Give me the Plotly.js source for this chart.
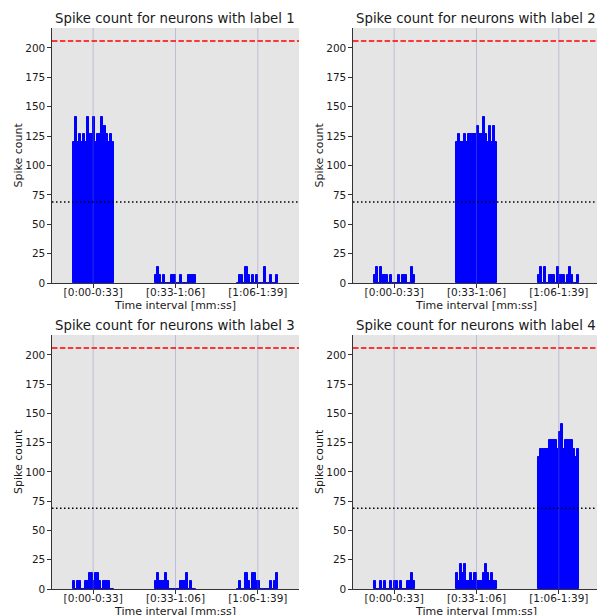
<!DOCTYPE html>
<html>
<head>
<meta charset="utf-8">
<script src="https://cdn.plot.ly/plotly-3.0.1.min.js"></script>
<style>
  html, body { margin: 0; padding: 0; overflow: hidden; background: #fff; }
  #chart { width: 610px; height: 625px; }
</style>
</head>
<body>
<div id="chart"></div>
<script>
// ---- data ----
const intervalLabels = ['[0:00-0:33]', '[0:33-1:06]', '[1:06-1:39]'];
const neuronLabels = [1, 2, 3, 4];

// spike count per neuron, for each time interval (20 neurons per interval)
const label1Counts = [
  [120,141,120,127,120,127,120,141,127,127,141,120,127,127,141,134,127,120,127,120],
  [7,14,7,0,7,0,0,0,7,7,0,0,7,0,0,0,7,7,7,7],
  [0,7,7,0,14,7,0,7,0,7,0,0,0,14,0,0,7,0,0,7]
];
const label2Counts = [
  [7,14,0,14,7,7,7,0,7,0,0,0,7,0,7,7,0,0,14,7],
  [120,127,120,120,127,120,127,127,127,127,134,127,127,141,127,120,134,120,134,120],
  [7,14,0,14,0,7,7,7,0,14,7,7,7,0,7,14,7,0,0,7]
];
const label3Counts = [
  [7,0,7,7,0,0,7,7,14,14,7,14,14,7,0,7,7,7,0,0],
  [7,14,7,7,7,14,7,0,0,0,0,0,7,7,7,14,0,7,0,0],
  [0,7,0,0,14,7,0,14,14,7,7,0,0,0,0,0,7,0,7,14]
];
const label4Counts = [
  [7,0,0,7,0,7,0,0,7,0,7,7,0,7,0,0,7,7,14,7],
  [14,7,21,14,21,7,7,14,7,14,7,7,7,14,21,14,7,14,7,7],
  [113,120,120,120,120,127,127,127,127,120,134,141,120,127,127,127,127,120,113,120]
];
const upperThreshold = 206;
const lowerThreshold = 69;
const yTicks = [0, 25, 50, 75, 100, 125, 150, 175, 200];

const allCounts = [label1Counts, label2Counts, label3Counts, label4Counts];

// ---- layout geometry (pixels of the figure) ----
const W = 610, H = 625;
const px = v => v / W;
const py = v => 1 - v / H;
const cols = [[52, 299], [353, 600]];
const rows = [[28, 283], [335, 589]];
const groupSpan = 0.5;

const FONT = 'DejaVu Sans, Verdana, sans-serif';
const TXT = '#1a1a1a';

const traces = [];
const layout = {
  width: W, height: H,
  margin: {l: 0, r: 0, t: 0, b: 0},
  autosize: false,
  paper_bgcolor: '#ffffff',
  plot_bgcolor: '#e5e5e5',
  showlegend: false,
  barmode: 'overlay',
  bargap: 0,
  bargroupgap: 0,
  font: {family: FONT, color: TXT, size: 10.5},
  annotations: [],
  shapes: []
};

allCounts.forEach((counts, k) => {
  const r = Math.floor(k / 2), c = k % 2;
  const ax = k === 0 ? '' : String(k + 1);
  const xs = [], ys = [], ws = [];
  counts.forEach((grp, g) => {
    const bw = groupSpan / grp.length;
    grp.forEach((v, j) => {
      xs.push(g - groupSpan / 2 + (j + 0.5) * bw);
      ys.push(v);
      ws.push(bw);
    });
  });
  traces.push({
    type: 'bar', x: xs, y: ys, width: ws,
    xaxis: 'x' + ax, yaxis: 'y' + ax,
    marker: {color: '#0000ff', line: {width: 1, color: '#0000ff'}},
    hoverinfo: 'skip'
  });
  const [x0, x1] = cols[c], [y0, y1] = rows[r];
  const common = {
    showgrid: false, zeroline: false,
    showline: true, linecolor: '#333333', linewidth: 1.3,
    ticks: 'outside', ticklen: 3.5, tickwidth: 1, tickcolor: '#333333',
    tickfont: {family: FONT, size: 10.5, color: TXT},
    fixedrange: true
  };
  layout['xaxis' + ax] = Object.assign({
    domain: [px(x0), px(x1)],
    anchor: 'y' + ax,
    range: [-0.5, 2.5],
    tickmode: 'array',
    tickvals: intervalLabels.map((_, i) => i),
    ticktext: intervalLabels,
    ticklabelstandoff: -4
  }, common);
  layout['yaxis' + ax] = Object.assign({
    domain: [py(y1), py(y0)],
    anchor: 'x' + ax,
    range: [0, 217],
    tickmode: 'array',
    tickvals: yTicks,
    ticktext: yTicks.map(String)
  }, common);

  // vertical grid lines drawn over the bars
  intervalLabels.forEach((_, i) => {
    layout.shapes.push({
      type: 'line', layer: 'above',
      xref: 'x' + ax, yref: 'y' + ax + ' domain',
      x0: i, x1: i, y0: 0, y1: 1,
      line: {color: 'rgba(120,120,190,0.36)', width: 1}
    });
  });
  // threshold lines
  layout.shapes.push({
    type: 'line', layer: 'above',
    xref: 'x' + ax + ' domain', yref: 'y' + ax,
    x0: 0, x1: 1, y0: upperThreshold, y1: upperThreshold,
    line: {color: '#ff0000', width: 1.5, dash: '5.5px,2.4px'}
  });
  layout.shapes.push({
    type: 'line', layer: 'above',
    xref: 'x' + ax + ' domain', yref: 'y' + ax,
    x0: 0, x1: 1, y0: lowerThreshold, y1: lowerThreshold,
    line: {color: '#000000', width: 1.5, dash: '1.5px,2.5px'}
  });

  // titles
  const cx = (x0 + x1) / 2;
  layout.annotations.push({
    text: 'Spike count for neurons with label ' + neuronLabels[k],
    xref: 'paper', yref: 'paper', x: px(cx), y: py(y0 - 9),
    xanchor: 'center', yanchor: 'middle', showarrow: false,
    font: {family: FONT, size: 13.3, color: TXT}
  });
  layout.annotations.push({
    text: 'Time interval [mm:ss]',
    xref: 'paper', yref: 'paper', x: px(cx), y: py(y1 + 22),
    xanchor: 'center', yanchor: 'middle', showarrow: false,
    font: {family: FONT, size: 11, color: TXT}
  });
  layout.annotations.push({
    text: 'Spike count', textangle: -90,
    xref: 'paper', yref: 'paper', x: px(x0 - 34), y: py((y0 + y1) / 2),
    xanchor: 'center', yanchor: 'middle', showarrow: false,
    font: {family: FONT, size: 11, color: TXT}
  });
});

Plotly.newPlot('chart', traces, layout, {displayModeBar: false});
</script>
</body>
</html>
